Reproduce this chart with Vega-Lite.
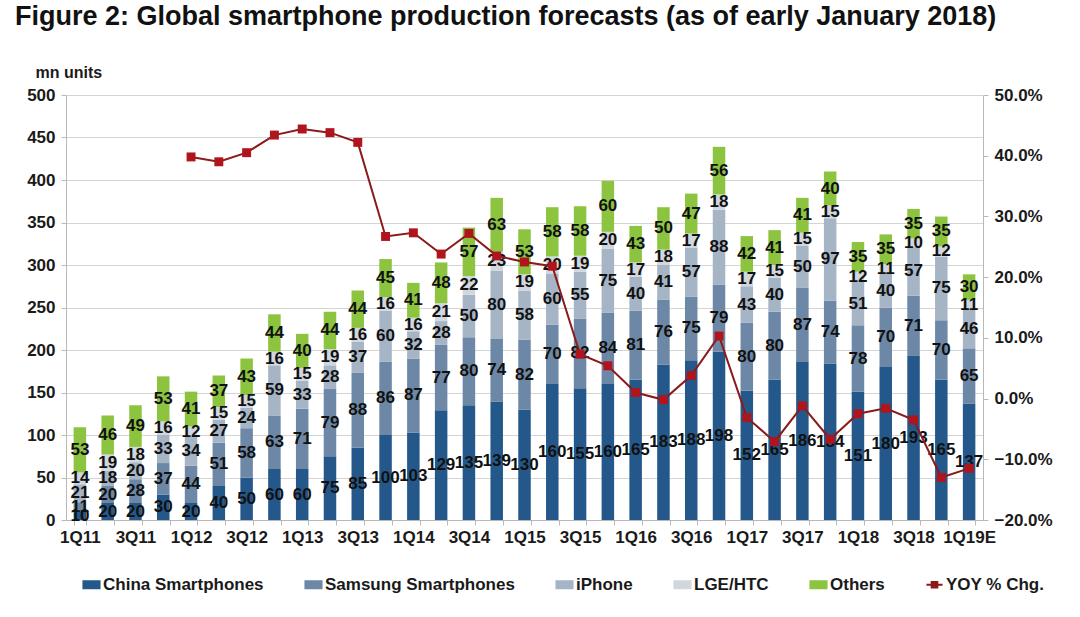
{
  "$schema": "https://vega.github.io/schema/vega-lite/v6.json",
  "autosize": "none",
  "width": 917,
  "height": 425,
  "padding": {"left": 66, "top": 95, "right": 97, "bottom": 97},
  "background": "white",
  "config": {
    "view": {"stroke": null},
    "font": "Liberation Sans",
    "axis": {"labelFont": "Liberation Sans", "labelFontWeight": "bold", "labelFontSize": 17, "labelColor": "#1a1a1a", "domainColor": "#b8b8b8", "tickColor": "#b8b8b8"}
  },
  "title": {
    "text": "Figure 2: Global smartphone production forecasts (as of early January 2018)",
    "anchor": "start",
    "frame": "group",
    "dx": -51,
    "offset": 33,
    "font": "Liberation Sans",
    "fontSize": 27,
    "fontWeight": "bold",
    "color": "#111111"
  },
  "data": {
    "values": [
      {"q": "1Q11", "China Smartphones": 10, "Samsung Smartphones": 11, "iPhone": 21, "LGE/HTC": 14, "Others": 53, "yoy": null},
      {"q": "2Q11", "China Smartphones": 20, "Samsung Smartphones": 20, "iPhone": 18, "LGE/HTC": 19, "Others": 46, "yoy": null},
      {"q": "3Q11", "China Smartphones": 20, "Samsung Smartphones": 28, "iPhone": 20, "LGE/HTC": 18, "Others": 49, "yoy": null},
      {"q": "4Q11", "China Smartphones": 30, "Samsung Smartphones": 37, "iPhone": 33, "LGE/HTC": 16, "Others": 53, "yoy": null},
      {"q": "1Q12", "China Smartphones": 20, "Samsung Smartphones": 44, "iPhone": 34, "LGE/HTC": 12, "Others": 41, "yoy": 0.398},
      {"q": "2Q12", "China Smartphones": 40, "Samsung Smartphones": 51, "iPhone": 27, "LGE/HTC": 15, "Others": 37, "yoy": 0.390},
      {"q": "3Q12", "China Smartphones": 50, "Samsung Smartphones": 58, "iPhone": 24, "LGE/HTC": 15, "Others": 43, "yoy": 0.405},
      {"q": "4Q12", "China Smartphones": 60, "Samsung Smartphones": 63, "iPhone": 59, "LGE/HTC": 16, "Others": 44, "yoy": 0.434},
      {"q": "1Q13", "China Smartphones": 60, "Samsung Smartphones": 71, "iPhone": 33, "LGE/HTC": 15, "Others": 40, "yoy": 0.444},
      {"q": "2Q13", "China Smartphones": 75, "Samsung Smartphones": 79, "iPhone": 28, "LGE/HTC": 19, "Others": 44, "yoy": 0.438},
      {"q": "3Q13", "China Smartphones": 85, "Samsung Smartphones": 88, "iPhone": 37, "LGE/HTC": 16, "Others": 44, "yoy": 0.422},
      {"q": "4Q13", "China Smartphones": 100, "Samsung Smartphones": 86, "iPhone": 60, "LGE/HTC": 16, "Others": 45, "yoy": 0.267},
      {"q": "1Q14", "China Smartphones": 103, "Samsung Smartphones": 87, "iPhone": 32, "LGE/HTC": 16, "Others": 41, "yoy": 0.273},
      {"q": "2Q14", "China Smartphones": 129, "Samsung Smartphones": 77, "iPhone": 28, "LGE/HTC": 21, "Others": 48, "yoy": 0.238},
      {"q": "3Q14", "China Smartphones": 135, "Samsung Smartphones": 80, "iPhone": 50, "LGE/HTC": 22, "Others": 57, "yoy": 0.272},
      {"q": "4Q14", "China Smartphones": 139, "Samsung Smartphones": 74, "iPhone": 80, "LGE/HTC": 23, "Others": 63, "yoy": 0.235},
      {"q": "1Q15", "China Smartphones": 130, "Samsung Smartphones": 82, "iPhone": 58, "LGE/HTC": 19, "Others": 53, "yoy": 0.225},
      {"q": "2Q15", "China Smartphones": 160, "Samsung Smartphones": 70, "iPhone": 60, "LGE/HTC": 20, "Others": 58, "yoy": 0.218},
      {"q": "3Q15", "China Smartphones": 155, "Samsung Smartphones": 82, "iPhone": 55, "LGE/HTC": 19, "Others": 58, "yoy": 0.073},
      {"q": "4Q15", "China Smartphones": 160, "Samsung Smartphones": 84, "iPhone": 75, "LGE/HTC": 20, "Others": 60, "yoy": 0.054},
      {"q": "1Q16", "China Smartphones": 165, "Samsung Smartphones": 81, "iPhone": 40, "LGE/HTC": 17, "Others": 43, "yoy": 0.010},
      {"q": "2Q16", "China Smartphones": 183, "Samsung Smartphones": 76, "iPhone": 41, "LGE/HTC": 18, "Others": 50, "yoy": -0.002},
      {"q": "3Q16", "China Smartphones": 188, "Samsung Smartphones": 75, "iPhone": 57, "LGE/HTC": 17, "Others": 47, "yoy": 0.038},
      {"q": "4Q16", "China Smartphones": 198, "Samsung Smartphones": 79, "iPhone": 88, "LGE/HTC": 18, "Others": 56, "yoy": 0.103},
      {"q": "1Q17", "China Smartphones": 152, "Samsung Smartphones": 80, "iPhone": 43, "LGE/HTC": 17, "Others": 42, "yoy": -0.031},
      {"q": "2Q17", "China Smartphones": 165, "Samsung Smartphones": 80, "iPhone": 40, "LGE/HTC": 15, "Others": 41, "yoy": -0.071},
      {"q": "3Q17", "China Smartphones": 186, "Samsung Smartphones": 87, "iPhone": 50, "LGE/HTC": 15, "Others": 41, "yoy": -0.012},
      {"q": "4Q17", "China Smartphones": 184, "Samsung Smartphones": 74, "iPhone": 97, "LGE/HTC": 15, "Others": 40, "yoy": -0.067},
      {"q": "1Q18", "China Smartphones": 151, "Samsung Smartphones": 78, "iPhone": 51, "LGE/HTC": 12, "Others": 35, "yoy": -0.025},
      {"q": "2Q18", "China Smartphones": 180, "Samsung Smartphones": 70, "iPhone": 40, "LGE/HTC": 11, "Others": 35, "yoy": -0.016},
      {"q": "3Q18", "China Smartphones": 193, "Samsung Smartphones": 71, "iPhone": 57, "LGE/HTC": 10, "Others": 35, "yoy": -0.035},
      {"q": "4Q18", "China Smartphones": 165, "Samsung Smartphones": 70, "iPhone": 75, "LGE/HTC": 12, "Others": 35, "yoy": -0.130},
      {"q": "1Q19E", "China Smartphones": 137, "Samsung Smartphones": 65, "iPhone": 46, "LGE/HTC": 11, "Others": 30, "yoy": -0.115}
    ]
  },
  "encoding": {
    "x": {
      "field": "q", "type": "nominal", "sort": null, "title": null,
      "scale": {"paddingInner": 0.55, "paddingOuter": 0.275},
      "axis": {
        "labelAngle": 0, "labelPadding": 4, "tickBand": "extent", "tickSize": 5,
        "labelExpr": "(substring(datum.value,0,1) == '1' || substring(datum.value,0,1) == '3') ? datum.value : ''"
      }
    }
  },
  "layer": [
    {
      "transform": [
        {"fold": ["China Smartphones", "Samsung Smartphones", "iPhone", "LGE/HTC", "Others"], "as": ["series", "v"]},
        {"calculate": "indexof(['China Smartphones','Samsung Smartphones','iPhone','LGE/HTC','Others'], datum.series)", "as": "k"},
        {"stack": "v", "groupby": ["q"], "sort": [{"field": "k", "order": "ascending"}], "as": ["y0", "y1"]},
        {"calculate": "(datum.y0 + datum.y1) / 2", "as": "mid"}
      ],
      "layer": [
        {
          "mark": {"type": "bar"},
          "encoding": {
            "y": {
              "field": "y0", "type": "quantitative",
              "scale": {"domain": [0, 500], "nice": false, "zero": true},
              "axis": {
                "orient": "left", "values": [0, 50, 100, 150, 200, 250, 300, 350, 400, 450, 500],
                "grid": true, "gridColor": "#d4d4d4", "tickSize": 5, "labelPadding": 6,
                "title": "mn units", "titleAngle": 0, "titleAlign": "left", "titleBaseline": "middle",
                "titleX": -31, "titleY": -23, "titleFont": "Liberation Sans", "titleFontSize": 16, "titleFontWeight": "bold", "titleColor": "#1a1a1a"
              }
            },
            "y2": {"field": "y1"},
            "color": {
              "field": "series", "type": "nominal",
              "scale": {
                "domain": ["China Smartphones", "Samsung Smartphones", "iPhone", "LGE/HTC", "Others", "YOY % Chg."],
                "range": ["#24588a", "#6d88a6", "#a6b5c6", "#d1d7de", "#8cc43f", "#8b1a1a"]
              },
              "legend": {
                "orient": "none", "legendX": 16, "legendY": 480, "direction": "horizontal", "columns": 6,
                "title": null, "labelLimit": 400,
                "labelFont": "Liberation Sans", "labelFontWeight": "bold", "labelFontSize": 17, "labelColor": "#1a1a1a",
                "symbolSize": 260, "columnPadding": 37, "labelOffset": 2,
                "encode": {
                  "symbols": {
                    "update": {
                      "shape": {"signal": "datum.value === 'YOY % Chg.' ? 'M-1,0L1,0M-0.35,-0.35L0.35,-0.35L0.35,0.35L-0.35,0.35Z' : 'M-1,-0.42L1,-0.42L1,0.42L-1,0.42Z'"},
                      "fill": {"signal": "datum.value === 'YOY % Chg.' ? '#b0141c' : scale('color', datum.value)"},
                      "stroke": {"signal": "datum.value === 'YOY % Chg.' ? '#8b1a1a' : 'transparent'"},
                      "strokeWidth": {"value": 2},
                      "opacity": {"value": 1}
                    }
                  }
                }
              }
            }
          }
        },
        {
          "mark": {"type": "text", "font": "Liberation Sans", "fontWeight": "bold", "fontSize": 17, "color": "#111111", "baseline": "middle", "align": "center"},
          "encoding": {
            "y": {"field": "mid", "type": "quantitative"},
            "text": {"field": "v", "type": "quantitative"}
          }
        }
      ]
    },
    {
      "transform": [{"filter": "isValid(datum.yoy)"}],
      "encoding": {
        "y": {
          "field": "yoy", "type": "quantitative",
          "scale": {"domain": [-0.2, 0.5], "nice": false, "zero": false},
          "axis": {
            "orient": "right", "values": [-0.2, -0.1, 0, 0.1, 0.2, 0.3, 0.4, 0.5], "format": ".1%",
            "grid": false, "tickSize": 5, "labelPadding": 6, "title": null
          }
        }
      },
      "layer": [
        {
          "mark": {"type": "line", "strokeWidth": 2},
          "encoding": {"color": {"datum": "YOY % Chg."}}
        },
        {
          "mark": {"type": "point", "shape": "square", "filled": true, "size": 80, "color": "#b0141c", "opacity": 1},
          "encoding": {}
        }
      ]
    }
  ],
  "resolve": {"scale": {"y": "independent"}}
}
